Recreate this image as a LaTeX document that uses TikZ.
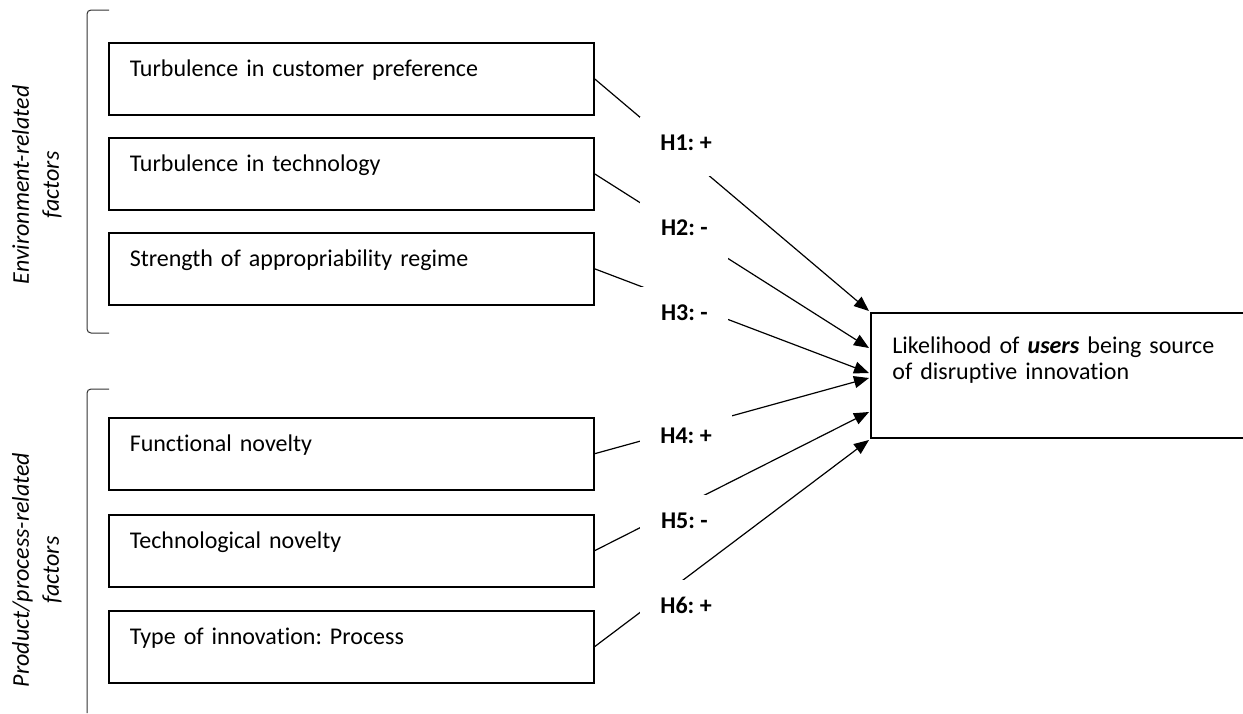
\documentclass[tikz,border=0pt]{standalone}
\usepackage{fontspec}
\setmainfont{Carlito}[Ligatures=NoCommon]
\usepackage{tikz}
\usetikzlibrary{calc}
\usetikzlibrary{arrows.meta}
\tikzset{factor/.style={draw, line width=0.75pt, anchor=north west, minimum width=242.5pt, minimum height=36pt, text width=221.5pt, inner xsep=10.5pt, align=left, text height=9pt, text depth=11.3pt}}
\tikzset{outcome/.style={anchor=north west, minimum width=186pt, minimum height=62pt, text width=165pt, inner xsep=10.5pt, align=left, text height=9pt, text depth=31.3pt}}
\tikzset{hyp/.style={fill=white, anchor=north west, minimum width=44pt, minimum height=29.5pt, inner xsep=10pt, text height=9pt, text depth=5.8pt, font=\fontsize{12}{13}\selectfont\bfseries}}
\tikzset{push/.style={line width=0.6pt, -{Triangle[length=7.5pt,width=6pt]}}}
\tikzset{bracket/.style={line width=0.5pt, black!80, rounded corners=2pt}}
\tikzset{group/.style={rotate=90, align=center, font=\itshape\fontsize{12}{15}\selectfont}}

\begin{document}
\frenchspacing
\begin{tikzpicture}[x=0.5pt, y=-0.5pt, font=\fontsize{12}{13}\selectfont]
\useasboundingbox (0,0) rectangle (1243,713);
\foreach \n/\y/\txt in {f1/42/Turbulence in customer preference, f2/137/Turbulence in technology, f3/232/Strength of appropriability regime, f4/417/Functional novelty, f5/514/Technological novelty, f6/610/Type of innovation: Process} {
\node[factor] (\n) at (108,\y) {\txt};
}
\node[outcome] (t) at (871,313) {Likelihood of \textbf{\textit{users}} being source\\of disruptive innovation};
\draw[line width=0.75pt] (t.north east) -- (t.north west) -- (t.south west) -- (t.south east);
\foreach \i/\dy in {1/-2, 2/35, 3/60, 4/65, 5/99, 6/127} {
\coordinate (e\i) at ($(t.north west)+(-2,\dy)$);
}
\foreach \i/\y/\s in {1/117/+, 2/202/-, 3/287/-, 4/410/+, 5/495/-, 6/580/+} {
\draw[push] (f\i.east) -- (e\i);
\node[hyp] (h\i) at (640,\y) {H\i: \s};
}
\node[group] (env) at (37,185) {Environment-related\\factors};
\node[group] (prod) at (37,570) {Product/process-related\\factors};
\draw[bracket] (109,10) -- (87,10) -- (87,333) -- (109,333);
\draw[bracket] (109,389) -- (87,389) -- (87,713);
\end{tikzpicture}
\end{document}
